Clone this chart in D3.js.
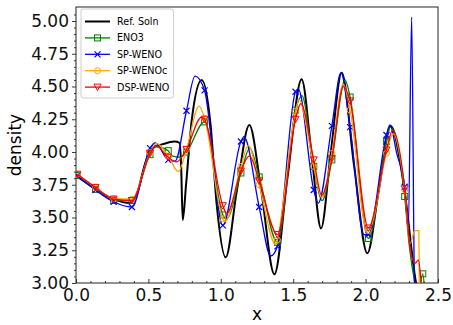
<!DOCTYPE html>
<html>
<head>
<meta charset="utf-8">
<script src="https://cdn.jsdelivr.net/npm/d3@7"></script>
<style>
  body { margin: 0; background: #fff; }
  text { font-family: "DejaVu Sans", sans-serif; }
</style>
</head>
<body>
<svg width="453" height="325"></svg>
<script>
// x positions where the scheme markers sit
const markX = [0.009, 0.135, 0.260, 0.386, 0.511, 0.637, 0.763, 0.888, 1.014, 1.139,
               1.265, 1.391, 1.516, 1.642, 1.767, 1.893, 2.019, 2.144, 2.270, 2.395];

// reference solution (x, density)
const refSoln = [[0,3.82],[0.13,3.72],[0.26,3.64],[0.37,3.61],[0.42,3.68],[0.48,3.92],[0.53,4.03],
  [0.60,4.06],[0.68,4.08],[0.715,4.07],[0.726,3.90],[0.737,3.48],[0.76,3.75],[0.80,4.25],[0.868,4.55],
  [0.93,4.20],[0.97,3.62],[1.034,3.196],[1.11,3.70],[1.197,4.206],[1.28,3.70],[1.37,3.066],[1.46,3.80],
  [1.558,4.555],[1.63,3.95],[1.692,3.417],[1.76,4.00],[1.835,4.605],[1.92,3.90],[2.012,3.227],[2.09,3.70],
  [2.173,4.198],[2.267,3.72],[2.341,3.05],[2.38,2.80]];

// density at the marker positions
const eno3Y    = [3.82,3.715,3.63,3.63,3.98,4.01,4.00,4.23,3.52,3.84,3.81,3.31,4.32,3.89,3.94,4.42,3.34,4.08,3.66,3.07];
const spwenoY  = [3.82,3.71,3.62,3.58,4.03,3.94,4.315,4.47,3.44,4.08,3.58,3.28,4.46,3.71,4.20,4.19,3.37,4.13,3.735,2.80];
const spwenocY = [3.83,3.73,3.645,3.64,3.995,3.97,4.02,4.257,3.49,3.89,3.75,3.33,4.31,3.89,3.99,4.32,3.40,3.99,3.71,2.80];
const dspwenoY = [3.83,3.73,3.64,3.63,3.99,3.96,4.02,4.25,3.59,3.855,3.78,3.37,4.25,3.94,3.95,4.39,3.42,4.015,3.72,2.80];

// extra line points between markers (peaks, troughs, tail)
const eno3Extra    = [[0.55,4.04],[0.66,3.97],[0.72,3.96],[1.04,3.49],[1.20,4.03],[1.56,4.43],[1.70,3.63],
  [1.858,4.55],[2.17,4.19],[2.30,3.30],[2.34,3.00],[2.36,2.90],[2.41,2.90]];
const spwenoExtra  = [[0.546,4.07],[0.684,3.93],[0.822,4.58],[1.16,4.117],[1.345,3.206],[1.535,4.48],
  [1.673,3.61],[1.83,4.605],[1.989,3.37],[2.168,4.206],[2.215,3.99],[2.295,3.40],[2.318,5.03],[2.338,3.00]];
const spwenocExtra = [[0.556,4.066],[0.706,3.85],[0.85,4.35],[1.03,3.47],[1.19,4.05],[1.381,3.29],
  [1.54,4.40],[1.697,3.65],[1.845,4.52],[2.01,3.40],[2.19,4.14],[2.307,3.30],[2.34,3.40],[2.368,3.40],[2.372,2.85]];
const dspwenoExtra = [[0.552,4.05],[0.695,3.925],[0.866,4.265],[1.041,3.53],[1.197,3.97],[1.552,4.37],
  [1.697,3.67],[1.846,4.50],[2.187,4.168],[2.307,3.28],[2.341,3.15],[2.364,3.175],[2.38,3.05]];

const seriesNames = ["Ref. Soln", "ENO3", "SP-WENO", "SP-WENOc", "DSP-WENO"];
const xTicks = [0, 0.5, 1.0, 1.5, 2.0, 2.5];
const yTicks = [3.00, 3.25, 3.50, 3.75, 4.00, 4.25, 4.50, 4.75, 5.00];

const svg = d3.select("svg");
const pLeft = 76, pRight = 438, pTop = 7, pBottom = 283;

const x = d3.scaleLinear().domain([0, 2.5]).range([pLeft, pRight]);
const y = d3.scaleLinear().domain([3, 5.107]).range([pBottom, pTop]);

svg.append("clipPath").attr("id", "plotclip")
  .append("rect").attr("x", pLeft).attr("y", pTop).attr("width", pRight - pLeft).attr("height", pBottom - pTop);

// axes: x ticks point in, y ticks point out
const xMinor = d3.range(0, 2.5001, 0.1).filter(v => Math.abs(v * 2 - Math.round(v * 2)) > 1e-6);
const yMinor = d3.range(3, 5.1, 0.05).filter(v => Math.abs(v * 4 - Math.round(v * 4)) > 1e-6);

svg.append("g").attr("transform", `translate(0,${pBottom})`)
  .call(d3.axisBottom(x).tickValues(xTicks).tickFormat(d3.format(".1f")).tickSizeInner(-4).tickSizeOuter(0).tickPadding(6));
svg.append("g").attr("transform", `translate(0,${pBottom})`)
  .call(d3.axisBottom(x).tickValues(xMinor).tickFormat("").tickSizeInner(-2).tickSizeOuter(0));
svg.append("g").attr("transform", `translate(${pLeft},0)`)
  .call(d3.axisLeft(y).tickValues(yTicks).tickFormat(d3.format(".2f")).tickSize(4).tickPadding(3));
svg.append("g").attr("transform", `translate(${pLeft},0)`)
  .call(d3.axisLeft(y).tickValues(yMinor).tickFormat("").tickSize(2));

svg.selectAll(".domain").remove();
svg.selectAll(".tick line").attr("stroke", "#222").attr("stroke-width", 0.9);
svg.selectAll(".tick text").attr("font-size", 17).attr("fill", "#111")
  .attr("font-family", '"DejaVu Sans", sans-serif');

svg.append("rect").attr("x", pLeft).attr("y", pTop).attr("width", pRight - pLeft).attr("height", pBottom - pTop)
  .attr("fill", "none").attr("stroke", "#222").attr("stroke-width", 1);

svg.append("text").attr("x", (pLeft + pRight) / 2).attr("y", 320).attr("text-anchor", "middle")
  .attr("font-size", 17).text("x");
svg.append("text").attr("transform", `translate(21,${(pTop + pBottom) / 2}) rotate(-90)`)
  .attr("text-anchor", "middle").attr("font-size", 17).text("density");

// build line data from marker values + extra points
function merge(marks, extra) {
  return markX.map((v, i) => [v, marks[i]]).concat(extra).sort((a, b) => a[0] - b[0]);
}

const line = d3.line().x(d => x(d[0])).y(d => y(d[1])).curve(d3.curveMonotoneX);
const plot = svg.append("g").attr("clip-path", "url(#plotclip)");

const schemes = [
  { name: seriesNames[1], color: "green",  marks: eno3Y,    extra: eno3Extra,    shape: "square" },
  { name: seriesNames[2], color: "blue",   marks: spwenoY,  extra: spwenoExtra,  shape: "x" },
  { name: seriesNames[3], color: "orange", marks: spwenocY, extra: spwenocExtra, shape: "circle" },
  { name: seriesNames[4], color: "red",    marks: dspwenoY, extra: dspwenoExtra, shape: "tri" }
];

plot.append("path").datum(refSoln).attr("d", line)
  .attr("fill", "none").attr("stroke", "black").attr("stroke-width", 2);

function drawMarker(g, shape, color) {
  if (shape === "square") {
    g.append("rect").attr("x", -3).attr("y", -3).attr("width", 6).attr("height", 6)
      .attr("fill", "none").attr("stroke", color).attr("stroke-width", 1);
  } else if (shape === "x") {
    g.append("path").attr("d", "M-3,-3L3,3M-3,3L3,-3").attr("stroke", color).attr("stroke-width", 1.2);
  } else if (shape === "circle") {
    g.append("circle").attr("r", 3).attr("fill", "none").attr("stroke", color).attr("stroke-width", 1);
  } else {
    g.append("path").attr("d", "M-3.5,-3L3.5,-3L0,3.5Z").attr("fill", "none")
      .attr("stroke", color).attr("stroke-width", 1);
  }
}

schemes.forEach(s => {
  plot.append("path").datum(merge(s.marks, s.extra)).attr("d", line)
    .attr("fill", "none").attr("stroke", s.color).attr("stroke-width", 1.3);
  s.marks.forEach((v, i) => {
    const g = plot.append("g").attr("transform", `translate(${x(markX[i])},${y(v)})`);
    drawMarker(g, s.shape, s.color);
  });
});

// legend
const lg = svg.append("g");
const box = lg.append("rect").attr("x", 81).attr("y", 9).attr("height", 89).attr("rx", 2.5)
  .attr("fill", "white").attr("fill-opacity", 0.8).attr("stroke", "#ccc").attr("stroke-width", 1);
let maxW = 0;
seriesNames.forEach((n, i) => {
  const cy = 21.5 + i * 16.4;
  const col = i === 0 ? "black" : schemes[i - 1].color;
  lg.append("line").attr("x1", 85).attr("x2", 110).attr("y1", cy).attr("y2", cy)
    .attr("stroke", col).attr("stroke-width", i === 0 ? 2 : 1.3);
  if (i > 0) drawMarker(lg.append("g").attr("transform", `translate(97.5,${cy})`), schemes[i - 1].shape, col);
  const t = lg.append("text").attr("x", 117).attr("y", cy + 3.5).attr("font-size", 9.6).text(n);
  maxW = Math.max(maxW, t.node().getComputedTextLength());
});
box.attr("width", 117 + maxW + 4 - 81);
</script>
</body>
</html>
